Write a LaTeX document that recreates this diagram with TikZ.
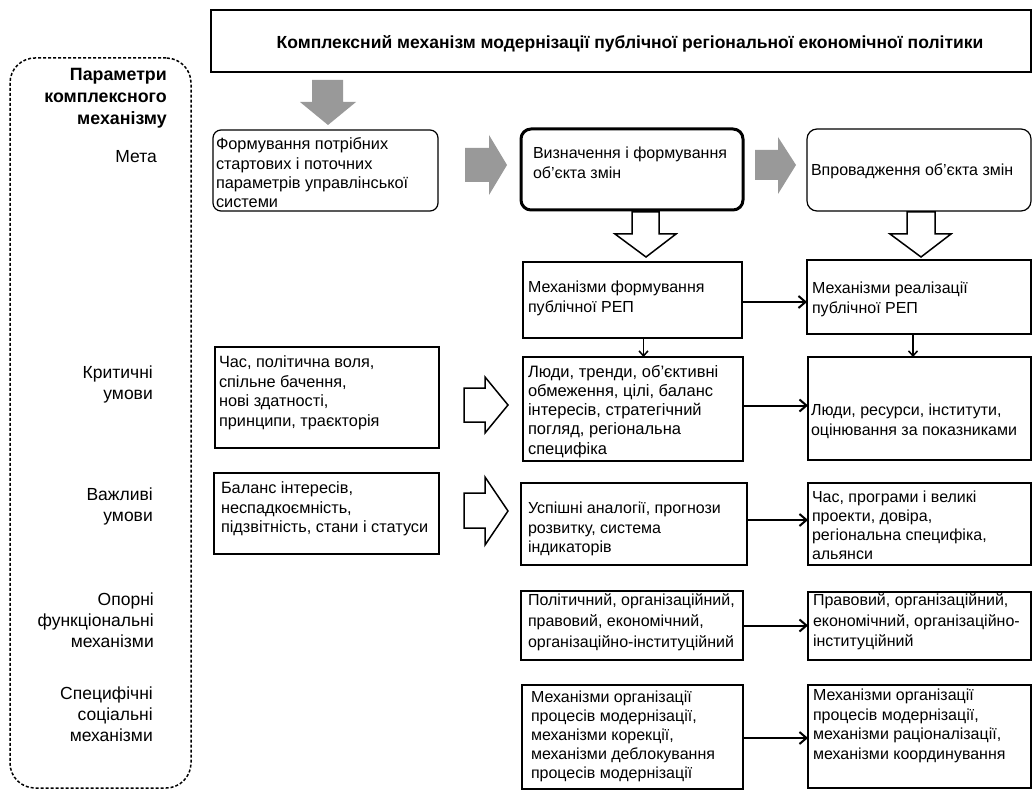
\documentclass[tikz,border=0pt]{standalone}
\usepackage{fontspec}
\setmainfont{Liberation Sans}
\usetikzlibrary{arrows.meta,calc}
\newcommand\bt[5]{\parbox[c][#2pt][t]{#1pt}{\leftskip=#3pt\rightskip=-40pt plus 1fil\parfillskip=0pt plus 1fil\parindent=0pt\rule{0pt}{#4pt}#5}}
\begin{document}
\begin{tikzpicture}[x=1pt,y=-1pt,
  bx/.style={draw, anchor=north west, inner sep=0pt, outer sep=0pt, line width=1.2pt, font=\fontsize{16}{20}\selectfont},
  thk/.style={line width=2pt},
  conn/.style={line width=2pt, -{Straight Barb[length=7pt,width=12pt]}},
  sconn/.style={line width=1.5pt, -{Straight Barb[length=5pt,width=9pt]}},
  garrow/.style={fill=black!40, draw=none},
  harrow/.style={fill=white, draw=black, line width=1.5pt, line join=miter},
  lbl/.style={anchor=base east, inner sep=0pt, font=\fontsize{17.5}{21}\selectfont}]
\useasboundingbox (0,0) rectangle (1032,791);

% title
\node[draw, line width=1.5pt, anchor=north west, inner sep=0pt, outer sep=0pt] (title) at (211,10)
  {\parbox[c][62pt][t]{820pt}{\centering\fontsize{17.5}{20}\selectfont\bfseries\rule{0pt}{39pt}\hspace*{18pt}Комплексний механізм модернізації публічної регіональної економічної політики}};

% parameters frame
\node[draw, line width=1.5pt, dash pattern=on 3pt off 2pt, rounded corners=25pt, anchor=north west,
  minimum width=181pt, minimum height=730pt, inner sep=0pt, outer sep=0pt] (par) at (10,58) {};

\node[lbl, font=\fontsize{17.8}{22}\selectfont\bfseries] (l0) at (167,81) {\parbox[t]{160pt}{\raggedleft Параметри\\комплексного\\механізму}};
\node[lbl] (l1) at (157,163) {Мета};
\node[lbl] (l2) at (153,378) {\parbox[t]{160pt}{\raggedleft Критичні\\умови}};
\node[lbl] (l3) at (153,500) {\parbox[t]{160pt}{\raggedleft Важливі\\умови}};
\node[lbl] (l4) at (154,605) {\parbox[t]{160pt}{\raggedleft Опорні\\функціональні\\механізми}};
\node[lbl] (l5) at (153,699) {\parbox[t]{160pt}{\raggedleft Специфічні\\соціальні\\механізми}};

% boxes
\node[bx, rounded corners=8pt, font=\fontsize{16.3}{19.2}\selectfont] (form) at (213,130) {\bt{225}{81}{3}{20}{Формування потрібних\\стартових і поточних\\параметрів управлінської\\системи}};
\node[bx, rounded corners=10pt, line width=3pt] (def) at (521,129) {\bt{222}{81}{12}{29.5}{Визначення і формування\\об’єкта змін}};
\node[bx, rounded corners=10pt] (impl) at (807,129) {\bt{224}{82}{4}{46.5}{Впровадження об’єкта змін}};

\node[bx, thk] (mf) at (523,262) {\bt{219}{76}{5}{30.5}{Механізми формування\\публічної РЕП}};
\node[bx, thk] (mr) at (807,260) {\bt{224}{74}{5}{33.5}{Механізми реалізації\\публічної РЕП}};

\node[bx, thk, font=\fontsize{16.5}{19.3}\selectfont] (lt) at (523,357) {\bt{220}{104}{5}{20}{Люди, тренди, об’єктивні\\обмеження, цілі, баланс\\інтересів, стратегічний\\погляд, регіональна\\специфіка}};
\node[bx] (lr) at (808,357) {\bt{223}{103}{3}{58}{Люди, ресурси, інститути,\\оцінювання за показниками}};

\node[bx, font=\fontsize{16.3}{19.5}\selectfont] (cp) at (215,347) {\bt{224}{101}{4}{20.5}{Час, політична воля,\\спільне бачення,\\нові здатності,\\принципи, траєкторія}};
\node[bx, font=\fontsize{16.3}{19.5}\selectfont] (bal) at (214,473) {\bt{225}{81}{7}{20.5}{Баланс інтересів,\\неспадкоємність,\\підзвітність, стани і статуси}};

\node[bx, thk, font=\fontsize{16}{19.5}\selectfont] (us) at (521,483) {\bt{226}{82}{7}{30.5}{Успішні аналогії, прогнози\\розвитку, система\\індикаторів}};
\node[bx, font=\fontsize{16}{19}\selectfont] (tp) at (808,483) {\bt{223}{82}{4}{19.5}{Час, програми і великі\\проекти, довіра,\\регіональна специфіка,\\альянси}};

\node[bx, thk, font=\fontsize{16}{21}\selectfont] (pol) at (521,591) {\bt{222}{69}{7}{14.5}{Політичний, організаційний,\\правовий, економічний,\\організаційно-інституційний}};
\node[bx, font=\fontsize{16}{20.5}\selectfont] (prav) at (808,592) {\bt{223}{68}{5}{13.5}{Правовий, організаційний,\\економічний, організаційно-\\інституційний}};

\node[bx, thk, font=\fontsize{16}{19}\selectfont] (mol) at (522,685) {\bt{221}{104}{9}{17.5}{Механізми організації\\процесів модернізації,\\механізми корекції,\\механізми деблокування\\процесів модернізації}};
\node[bx, font=\fontsize{16}{19.5}\selectfont] (mor) at (808,685) {\bt{223}{103}{5}{15.5}{Механізми організації\\процесів модернізації,\\механізми раціоналізації,\\механізми координування}};

% connectors
\draw[conn] ([yshift=-2pt]mf.east) -- ([yshift=-2pt]mf.east -| mr.west);
\draw[conn] ([yshift=3.5pt]lt.east) -- ([yshift=3.5pt]lt.east -| lr.west);
\draw[conn] ([yshift=4pt]us.east) -- ([yshift=4pt]us.east -| tp.west);
\draw[conn] (pol.east) -- (pol.east -| prav.west);
\draw[conn] ([yshift=-1pt]mol.east) -- ([yshift=-1pt]mol.east -| mor.west);
\draw[sconn] ([xshift=11pt]mf.south) -- ([xshift=11pt]mf.south |- lt.north);
\draw[sconn] ([xshift=-6pt]mr.south) -- ([xshift=-6pt]mr.south |- lr.north);

% grey block arrows
\fill[garrow] (312,80) -- (343,80) -- (343,102) -- (356,102) -- (328,125) -- (300,102) -- (312,102) -- cycle;
\fill[garrow] (465,148) -- (489,148) -- (489,135) -- (507,165) -- (489,195) -- (489,182) -- (465,182) -- cycle;
\fill[garrow] (755,150) -- (778,150) -- (778,137) -- (796,165) -- (778,194) -- (778,180) -- (755,180) -- cycle;

% hollow block arrows
\draw[harrow] (632,212) -- (659,212) -- (659,234) -- (676,234) -- (646,257) -- (615,234) -- (632,234) -- cycle;
\draw[harrow] (907,212) -- (935,212) -- (935,234) -- (951,234) -- (921,257) -- (890,234) -- (907,234) -- cycle;
\draw[harrow] (464,388) -- (485,388) -- (485,377) -- (508,405) -- (485,433) -- (485,422) -- (464,422) -- cycle;
\draw[harrow] (464,493) -- (485,493) -- (485,477) -- (508,511) -- (485,545) -- (485,528) -- (464,528) -- cycle;
\end{tikzpicture}
\end{document}
